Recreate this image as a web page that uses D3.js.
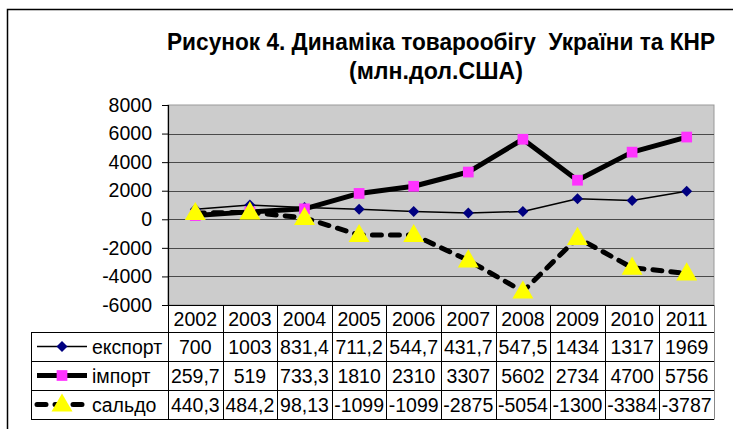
<!DOCTYPE html>
<html>
<head>
<meta charset="utf-8">
<script src="https://cdn.jsdelivr.net/npm/d3@7"></script>
<style>
  body { margin: 0; background: #fff; }
  svg { display: block; }
</style>
</head>
<body>
<div id="chart"></div>
<script>
// data
const years = ["2002", "2003", "2004", "2005", "2006", "2007", "2008", "2009", "2010", "2011"];
const eksport = [700, 1003, 831.4, 711.2, 544.7, 431.7, 547.5, 1434, 1317, 1969];
const import_ = [259.7, 519, 733.3, 1810, 2310, 3307, 5602, 2734, 4700, 5756];
const saldo = [440.3, 484.2, 98.13, -1099, -1099, -2875, -5054, -1300, -3384, -3787];
const yTicks = [-6000, -4000, -2000, 0, 2000, 4000, 6000, 8000];
const seriesNames = ["експорт", "імпорт", "сальдо"];

const width = 733, height = 429;
const plotLeft = 168, plotRight = 714, plotTop = 105, plotBottom = 305;
const legendLeft = 31;
const rowHeight = 29;
const headerHeight = 27;
const font = "'Liberation Sans', Arial, sans-serif";

const svg = d3.select("#chart").append("svg")
  .attr("width", width)
  .attr("height", height);

// outer frame (only left + top visible in the picture)
svg.append("path")
  .attr("d", `M7.5,${height} V9.5 H${width}`)
  .attr("fill", "none")
  .attr("stroke", "#000")
  .attr("stroke-width", 1.5);

// title
const title = svg.append("g")
  .style("font-family", "'Liberation Sans Narrow', 'Arial Narrow', 'Liberation Sans', sans-serif")
  .style("font-weight", "bold")
  .style("font-size", "23px")
  .attr("text-anchor", "middle");
title.append("text")
  .attr("x", 441).attr("y", 50)
  .attr("xml:space", "preserve")
  .style("white-space", "pre")
  .attr("textLength", 548).attr("lengthAdjust", "spacingAndGlyphs")
  .text("Рисунок 4. Динаміка товарообігу  України та КНР");
title.append("text")
  .attr("x", 436).attr("y", 79)
  .attr("textLength", 174).attr("lengthAdjust", "spacingAndGlyphs")
  .text("(млн.дол.США)");

const x = d3.scaleBand()
  .domain(years)
  .range([plotLeft, plotRight])
  .padding(0);

const y = d3.scaleLinear()
  .domain([-6000, 8000])
  .range([plotBottom, plotTop]);

const cx = d => x(d) + x.bandwidth() / 2;

// plot background
svg.append("rect")
  .attr("x", plotLeft).attr("y", plotTop)
  .attr("width", plotRight - plotLeft)
  .attr("height", plotBottom - plotTop)
  .attr("fill", "#cccccc")
  .attr("stroke", "#999")
  .attr("stroke-width", 1);

// gridlines
svg.append("g")
  .attr("stroke", "#4a4a4a")
  .attr("stroke-width", 1)
  .selectAll("line")
  .data(yTicks.filter(t => t > -6000 && t < 8000))
  .enter()
  .append("line")
  .attr("x1", plotLeft).attr("x2", plotRight)
  .attr("y1", d => Math.round(y(d)) + 0.5)
  .attr("y2", d => Math.round(y(d)) + 0.5);

// y axis
const yAxis = d3.axisLeft(y)
  .tickValues(yTicks)
  .tickSize(6)
  .tickPadding(10)
  .tickFormat(d => String(d));

const gy = svg.append("g")
  .attr("transform", `translate(${plotLeft},0)`)
  .call(yAxis);
gy.select(".domain").attr("stroke", "#000").attr("stroke-width", 1.2);
gy.selectAll(".tick line").attr("stroke", "#000");
gy.selectAll(".tick text")
  .style("font-family", font)
  .style("font-size", "19.5px")
  .attr("fill", "#000");

// markers (excel-like diamond is a square turned 45deg)
const diamond = { draw(ctx) { const r = 5.5; ctx.moveTo(0, -r); ctx.lineTo(r, 0); ctx.lineTo(0, r); ctx.lineTo(-r, 0); ctx.closePath(); } };
const diamondSym = d3.symbol().type(diamond);
const square = d3.symbol().type(d3.symbolSquare).size(115);
const triangle = d3.symbol().type(d3.symbolTriangle).size(190);

const series = [
  { name: seriesNames[0], values: eksport, stroke: 1.5, dash: null,
    sym: diamondSym, fill: "#000080" },
  { name: seriesNames[1], values: import_, stroke: 5, dash: null,
    sym: square, fill: "#ff33ff" },
  { name: seriesNames[2], values: saldo, stroke: 5, dash: "9,9",
    sym: triangle, fill: "#ffff00" }
];

const line = d3.line()
  .x((v, i) => cx(years[i]))
  .y(v => y(v));

series.forEach(s => {
  const g = svg.append("g");
  g.append("path")
    .attr("d", line(s.values))
    .attr("fill", "none")
    .attr("stroke", "#000")
    .attr("stroke-width", s.stroke)
    .attr("stroke-linejoin", "round")
    .attr("stroke-linecap", s.dash ? "round" : "butt")
    .attr("stroke-dasharray", s.dash);
  g.selectAll(".m")
    .data(s.values)
    .enter()
    .append("path")
    .attr("transform", (v, i) => `translate(${cx(years[i])},${y(v) + (s.sym === triangle ? 1 : 0)})`)
    .attr("d", s.sym)
    .attr("fill", s.fill);
});

// data table
const table = svg.append("g");
const rowTop = i => plotBottom + headerHeight + i * rowHeight;
const tableBottom = rowTop(3);

const grid = table.append("g")
  .attr("stroke", "#000")
  .attr("stroke-width", 1);

// header row lines
grid.selectAll(".v")
  .data(years)
  .enter()
  .append("line")
  .attr("x1", d => Math.round(x(d)) + 0.5)
  .attr("x2", d => Math.round(x(d)) + 0.5)
  .attr("y1", plotBottom)
  .attr("y2", tableBottom);

// horizontal lines
[0, 1, 2, 3].forEach(i => {
  grid.append("line")
    .attr("x1", legendLeft).attr("x2", plotRight)
    .attr("y1", rowTop(i) + 0.5).attr("y2", rowTop(i) + 0.5);
});
grid.append("line")
  .attr("x1", plotLeft).attr("x2", plotRight)
  .attr("y1", plotBottom + 0.5).attr("y2", plotBottom + 0.5);
grid.append("line")
  .attr("x1", legendLeft + 0.5).attr("x2", legendLeft + 0.5)
  .attr("y1", rowTop(0)).attr("y2", tableBottom);
grid.append("line")
  .attr("x1", plotRight + 0.5).attr("x2", plotRight + 0.5)
  .attr("y1", plotBottom).attr("y2", tableBottom + 0.5)
  .attr("stroke", "#888");

const cellText = table.append("g")
  .style("font-family", font)
  .style("font-size", "19.5px")
  .attr("fill", "#000");

cellText.selectAll(".yr")
  .data(years)
  .enter()
  .append("text")
  .attr("x", d => cx(d))
  .attr("y", plotBottom + headerHeight / 2 + 7)
  .attr("text-anchor", "middle")
  .text(d => d);

const fmt = v => String(v).replace(".", ",");

series.forEach((s, r) => {
  const mid = rowTop(r) + rowHeight / 2;
  cellText.selectAll(".r" + r)
    .data(s.values)
    .enter()
    .append("text")
    .attr("x", (v, i) => cx(years[i]))
    .attr("y", mid + 7)
    .attr("text-anchor", "middle")
    .text(fmt);

  // legend key
  table.append("line")
    .attr("x1", 37).attr("x2", 87)
    .attr("y1", mid).attr("y2", mid)
    .attr("stroke", "#000")
    .attr("stroke-width", s.stroke)
    .attr("stroke-linecap", s.dash ? "round" : "butt")
    .attr("stroke-dasharray", s.dash);
  table.append("path")
    .attr("transform", `translate(62,${mid + (s.sym === triangle ? 1 : 0)})`)
    .attr("d", s.sym)
    .attr("fill", s.fill);
  cellText.append("text")
    .attr("x", 92)
    .attr("y", mid + 7)
    .text(s.name);
});
</script>
</body>
</html>
